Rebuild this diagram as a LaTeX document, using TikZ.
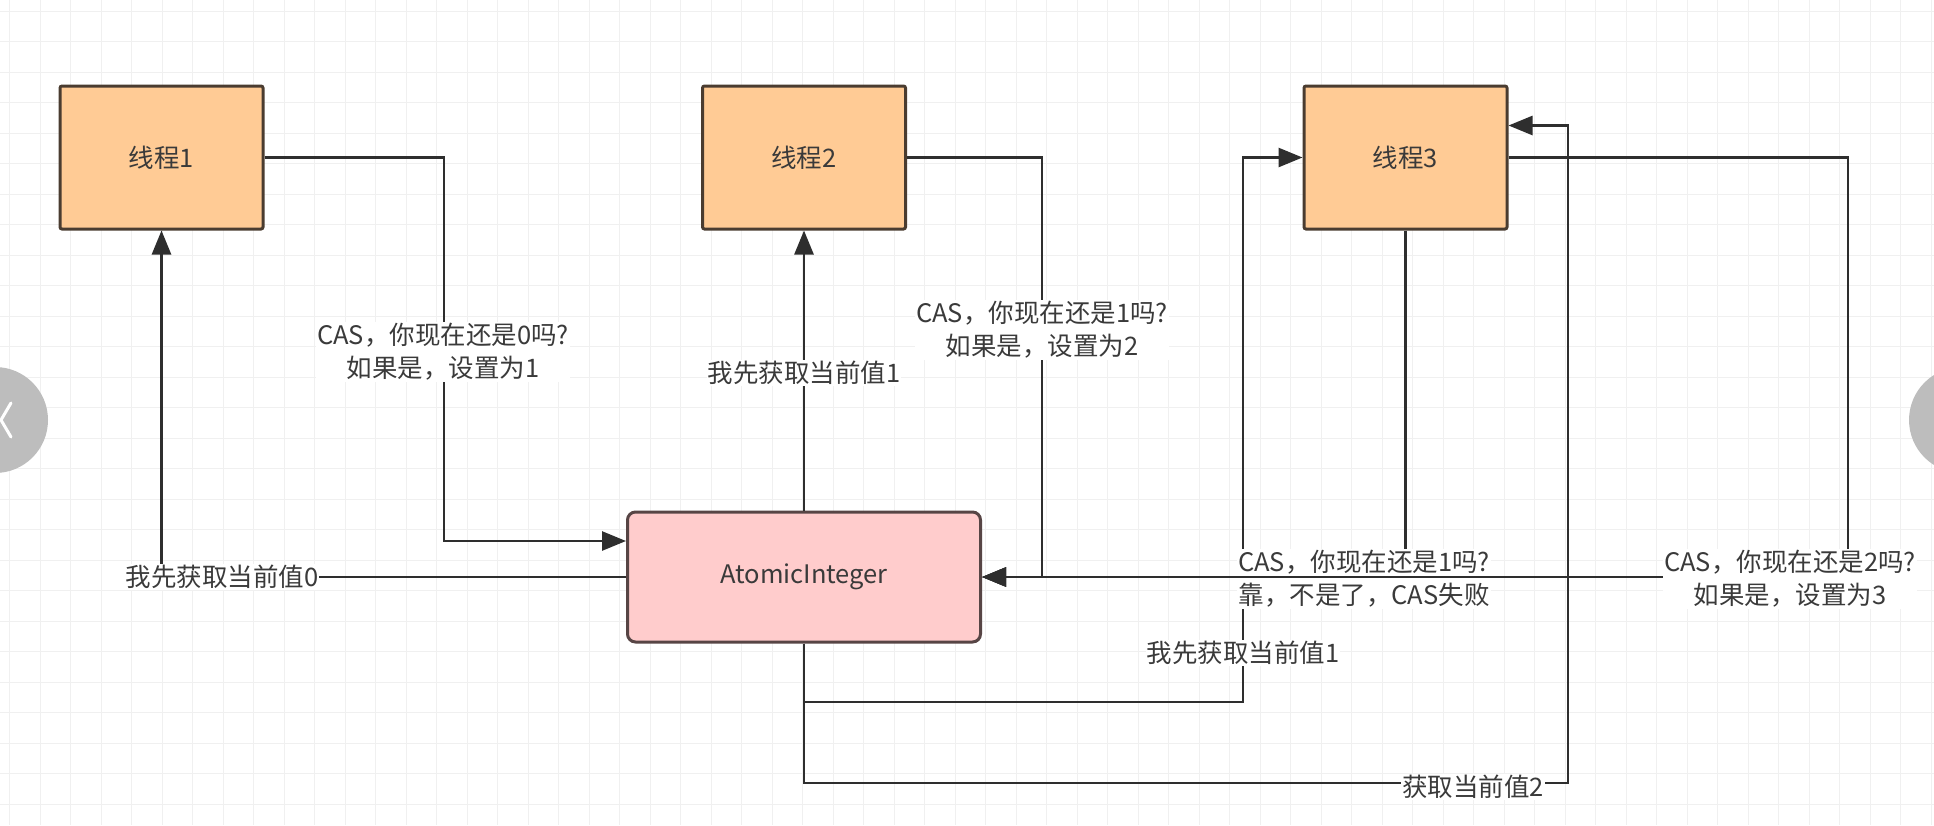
\documentclass[tikz,border=0pt]{standalone}
\usepackage{fontspec}
\setmainfont{Noto Sans CJK SC}
\usetikzlibrary{arrows.meta,calc}
\definecolor{thfill}{HTML}{FFCB95}
\definecolor{thdraw}{HTML}{4A3C30}
\definecolor{atfill}{HTML}{FFCCCC}
\definecolor{atdraw}{HTML}{574545}
\definecolor{linec}{HTML}{2E2E2E}
\definecolor{txtc}{HTML}{3A3A3A}
\definecolor{gridc}{HTML}{F0F0F0}
\definecolor{navc}{HTML}{BDBDBD}
\begin{document}
\begin{tikzpicture}[x=1pt,y=-1pt,
  thread/.style={draw=thdraw, line width=3pt, fill=thfill, rounded corners=2pt,
    minimum width=203pt, minimum height=143pt, inner sep=0pt, text=txtc,
    font=\fontsize{25.5}{33}\selectfont},
  atom/.style={draw=atdraw, line width=3pt, fill=atfill, rounded corners=8pt,
    minimum width=353pt, minimum height=130pt, inner sep=0pt, text=txtc,
    font=\fontsize{25.5}{33}\selectfont},
  conn/.style={draw=linec, line width=2.6pt, -{Triangle[length=24pt,width=19pt]}},
  lbl/.style={fill=white, inner sep=1pt, text=txtc, align=center,
    font=\fontsize{25.5}{33}\selectfont}
]
\useasboundingbox (0,0) rectangle (1934,825);
\clip (0,0) rectangle (1934,825);
\fill[white] (0,0) rectangle (1934,825);
% grid
\foreach \x in {9.5,40,...,1934} \draw[gridc, line width=1pt] (\x,0) -- (\x,825);
\foreach \y in {11,41.5,...,825} \draw[gridc, line width=1pt] (0,\y) -- (1934,\y);

% boxes
\node[thread] (t1) at (161.5,157.5) {线程1};
\node[thread] (t2) at (804,157.5) {线程2};
\node[thread] (t3) at (1405.5,157.5) {线程3};
\node[atom] (a) at (804,577) {AtomicInteger};

% helper coordinates
\coordinate (c1) at (444,541);
\coordinate (c4) at (1042,577);
\coordinate (c6) at (1848,577);
\coordinate (c7) at (1243,702);
\coordinate (c8) at (1568,783);

% edge 1
\draw[conn] (t1.east) -| (c1) -- (c1 -| a.west);
\node[lbl] (l1) at (443,352) {CAS，你现在还是0吗?\\如果是，设置为1};
% edge 2
\draw[conn] (a.west) -| (t1.south);
\node[lbl] (l2) at (222,577) {我先获取当前值0};
% edge 3
\draw[conn] (a.north) -- (t2.south);
\node[lbl] (l3) at (804,373) {我先获取当前值1};
% edge 4
\draw[conn] (t2.east) -| (c4) -- (a.east);
\node[lbl] (l4) at (1042,330) {CAS，你现在还是1吗?\\如果是，设置为2};
% edge 7
\draw[conn] (a.south) |- (c7) |- (t3.west);
\node[lbl] (l7) at (1243,653) {我先获取当前值1};
% edge 8
\draw[conn] (a.south) |- (c8) |- ($(t3.east)+(0,-32)$);
\node[lbl] (l8) at (1473,787) {获取当前值2};
% edge 5
\draw[conn] (t3.south) |- (a.east);
\node[lbl] (l5) at (1364,579) {CAS，你现在还是1吗?\\靠，不是了，CAS失败};
% edge 6
\draw[conn] (t3.east) -| (c6) -- (a.east);
\node[lbl] (l6) at (1790,579) {CAS，你现在还是2吗?\\如果是，设置为3};

% carousel buttons of the screenshot
\fill[navc] (-5,420) circle (53);
\draw[white, line width=3pt, line cap=round] (11,403) -- (1,420) -- (11,437);
\fill[navc] (1962,420) circle (53);
\end{tikzpicture}
\end{document}
